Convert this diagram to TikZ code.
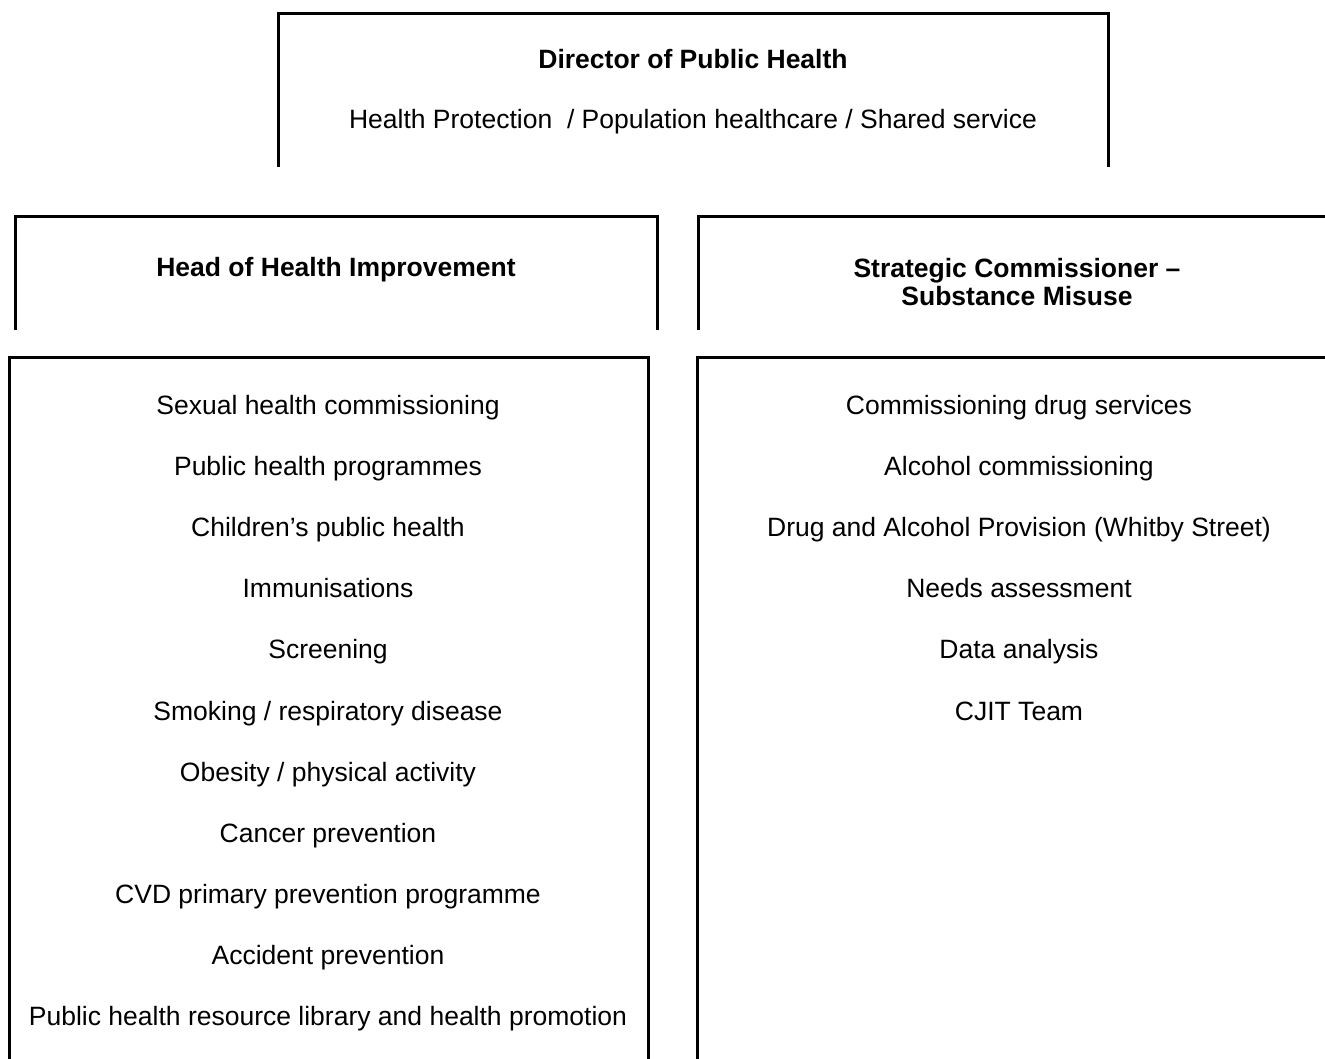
\documentclass[tikz,border=0pt]{standalone}
\usepackage{fontspec}
\setmainfont{Liberation Sans}
\begin{document}
\begin{tikzpicture}[x=1pt,y=-1pt,
  frame/.style={line width=3pt,line join=miter,line cap=butt},
  item/.style={font=\fontsize{26.5}{30}\selectfont,inner sep=0pt,anchor=center,
    text height=0.72em,text depth=0.21em},
  head/.style={item,font=\fontsize{26.5}{28}\selectfont\bfseries,align=center}]
\useasboundingbox (0,0) rectangle (1325,1059);

% open-bottom frames
\draw[frame] (278,167) -- (278,14) -- (1108,14) -- (1108,167);
\draw[frame] (15,330) -- (15,217) -- (657,217) -- (657,330);
\draw[frame] (698,330) -- (698,217) -- (1325,217);
\draw[frame] (9,1059) -- (9,357) -- (648,357) -- (648,1059);
\draw[frame] (697,1059) -- (697,357) -- (1325,357);

% director
\node[head] (dph) at (693,66) {Director of Public Health};
\node[item] (dphsub) at (693,126) {Health Protection \ / Population healthcare / Shared service};

% second tier
\node[head] (hhi) at (336,274) {Head of Health Improvement};
\node[head,text height=,text depth=] (scsm) at (1017,282) {Strategic Commissioner --\\Substance Misuse};

% health improvement remit
\foreach \t [count=\i] in {Sexual health commissioning,Public health programmes,Children’s public health,Immunisations,Screening,Smoking / respiratory disease,Obesity / physical activity,Cancer prevention,CVD primary prevention programme,Accident prevention,Public health resource library and health promotion}
  \node[item] (hi\i) at (328,412+61.1*\i-61.1) {\t};

% substance misuse remit
\foreach \t [count=\i] in {Commissioning drug services,Alcohol commissioning,Drug and Alcohol Provision (Whitby Street),Needs assessment,Data analysis,CJIT Team}
  \node[item] (sm\i) at (1019,412+61.1*\i-61.1) {\t};
\end{tikzpicture}
\end{document}
